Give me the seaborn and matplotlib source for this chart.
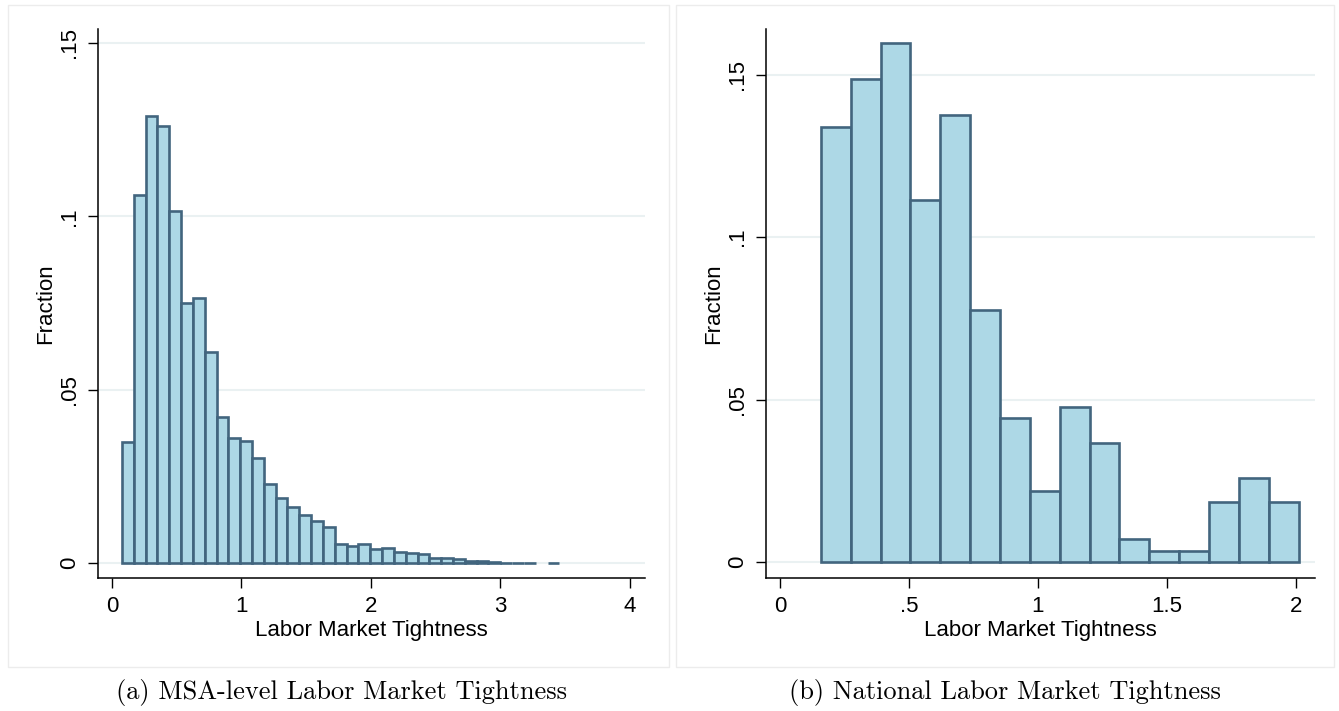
import numpy as np
import pandas as pd
import matplotlib
matplotlib.use('Agg')
import matplotlib.pyplot as plt
import seaborn as sns
from matplotlib.patches import Rectangle

# MSA-level tightness: fraction per bin (37 equal bins)
msa_start = 0.077
msa_width = 0.0913
msa_frac = [.035, .106, .129, .126, .1015, .075, .0765, .061, .0422, .0362,
            .0353, .0302, .0227, .0189, .0161, .0140, .0122, .0104, .0056, .0050,
            .0056, .0040, .0044, .0032, .0028, .0026, .0015, .0015, .0012, .0005,
            .0007, .0003, .0001, .0001, .0001, 0, .0001]

# National tightness: fraction per bin (16 equal bins)
nat_start = 0.159
nat_width = 0.1157
nat_frac = [.1337, .1486, .1597, .1114, .1375, .0775, .0442, .0218, .0478, .0367,
            .0071, .0035, .0035, .0184, .0258, .0184]

msa_xticks = [0, 1, 2, 3, 4]
msa_xlabels = ['0', '1', '2', '3', '4']
nat_xticks = [0, .5, 1, 1.5, 2]
nat_xlabels = ['0', '.5', '1', '1.5', '2']
yticks = [0, .05, .1, .15]
ylabels = ['0', '.05', '.1', '.15']

captions = ['(a) MSA-level Labor Market Tightness', '(b) National Labor Market Tightness']

sns.set_style('white')
plt.rcParams['font.family'] = ['Liberation Sans', 'DejaVu Sans']
plt.rcParams['text.color'] = 'black'
plt.rcParams['axes.labelcolor'] = 'black'
plt.rcParams['xtick.color'] = 'black'
plt.rcParams['ytick.color'] = 'black'

fill = '#add8e6'
edge = '#42657e'
grid = '#eaf1f2'

fig = plt.figure(figsize=(13.39, 7.11), dpi=100)

# light panel frames
for x0, w in [(8, 661), (676, 658)]:
    fig.patches.append(Rectangle((x0 / 1339, (711 - 667) / 711), w / 1339, 662 / 711,
                                 transform=fig.transFigure, fill=False,
                                 edgecolor='#ececec', linewidth=1))

ax1 = fig.add_axes([98 / 1339, 133 / 711, 547 / 1339, 549 / 711])
ax2 = fig.add_axes([766 / 1339, 133 / 711, 549 / 1339, 549 / 711])


def draw(ax, start, width, frac, xlim, ylim, xt, xl):
    n = len(frac)
    edges = [start + width * i for i in range(n + 1)]
    df = pd.DataFrame({'x': [(edges[i] + edges[i + 1]) / 2 for i in range(n)], 'w': frac})
    sns.histplot(data=df, x='x', weights='w', bins=edges, ax=ax, color=fill,
                 edgecolor=edge, linewidth=1.9, alpha=1, zorder=3)
    for p in ax.patches:
        if p.get_height() == 0:
            p.set_visible(False)
    ax.set_xlim(*xlim)
    ax.set_ylim(*ylim)
    ax.set_xticks(xt)
    ax.set_xticklabels(xl)
    ax.set_yticks(yticks)
    ax.set_yticklabels(ylabels, rotation=90, va='center')
    for y in yticks:
        ax.axhline(y, color=grid, linewidth=1.5, zorder=1)
    ax.set_xlabel('Labor Market Tightness', fontsize=16, labelpad=2)
    ax.set_ylabel('Fraction', fontsize=16, labelpad=2)
    ax.tick_params(axis='both', labelsize=16, length=7, width=1, direction='out',
                   color='black', bottom=True, left=True, pad=6)
    sns.despine(ax=ax)
    for s in ['left', 'bottom']:
        ax.spines[s].set_color('black')
        ax.spines[s].set_linewidth(1.1)


draw(ax1, msa_start, msa_width, msa_frac, (-0.108, 4.116), (-0.0043, 0.154),
     msa_xticks, msa_xlabels)
draw(ax2, nat_start, nat_width, nat_frac, (-0.054, 2.074), (-0.0049, 0.164),
     nat_xticks, nat_xlabels)

fig.text(341 / 1339, 1 - 692 / 711, captions[0], ha='center', va='center',
         fontsize=19, family='cmr10')
fig.text(1005 / 1339, 1 - 692 / 711, captions[1], ha='center', va='center',
         fontsize=19, family='cmr10')

fig.savefig('out.png', dpi=100)
